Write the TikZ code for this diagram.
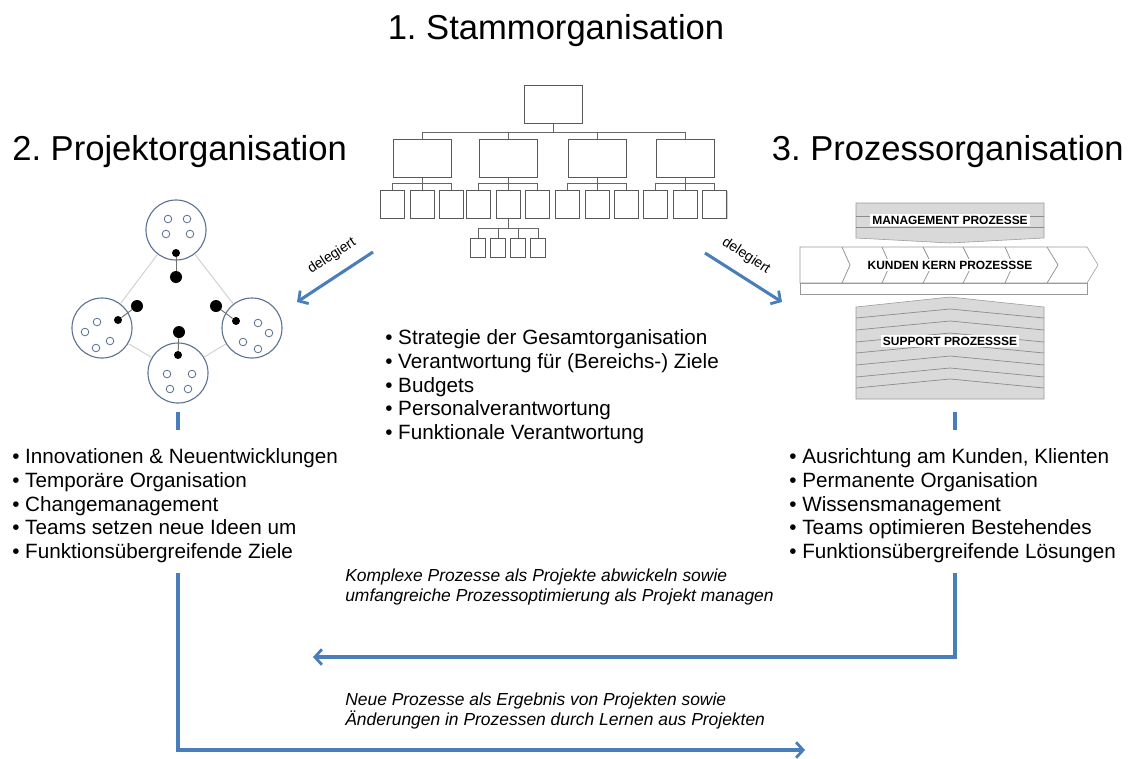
\documentclass[tikz,border=0pt]{standalone}
\usepackage{fontspec}
\setmainfont{Liberation Sans}
\frenchspacing
\usetikzlibrary{positioning,arrows.meta,shadows}
\definecolor{arrowblue}{HTML}{4A7EBB}
\definecolor{teamblue}{HTML}{5D7391}
\definecolor{procgray}{HTML}{D9D9D9}
\tikzset{
	orgbox/.style={draw=black!65,fill=white,line width=0.7pt,inner sep=0pt,drop shadow={shadow xshift=0.7pt,shadow yshift=-0.7pt,fill=black!40}},
	orgline/.style={draw=black!60,line width=0.5pt},
	team/.style={circle,draw=teamblue,fill=white,line width=0.8pt,minimum size=1.5cm,inner sep=0pt},
	member/.style={circle,draw=teamblue,line width=0.6pt,minimum size=0.19cm,inner sep=0pt},
	bigdot/.style={circle,fill=black,minimum size=0.3cm,inner sep=0pt},
	smalldot/.style={circle,fill=black,minimum size=0.2cm,inner sep=0pt},
	teamlink/.style={draw=black!18,line width=0.7pt},
	dotlink/.style={draw=black!55,line width=0.7pt},
	proclabel/.style={fill=white,inner sep=1.5pt,font=\bfseries\fontsize{8.5}{10}\selectfont},
	procline/.style={draw=black!45,line width=0.5pt},
	myarrow/.style={-{Straight Barb[length=5pt,width=11pt,line width=2pt]},draw=arrowblue,line width=2.2pt},
	myline/.style={draw=arrowblue,line width=2.2pt},
	title/.style={inner sep=0pt,font=\fontsize{24.6}{29}\selectfont},
	bullets/.style={anchor=north west,align=left,inner sep=0pt,font=\fontsize{14.7}{16.8}\selectfont},
	remark/.style={anchor=north west,align=left,inner sep=0pt,font=\itshape\fontsize{12.4}{14.2}\selectfont}
}

\begin{document}
\begin{tikzpicture}[x=0.025cm,y=-0.025cm]
	\useasboundingbox (0,0) rectangle (1128,758);

	% titles
	\node[title,anchor=base] (stamm) at (556,39) {1. Stammorganisation};
	\node[title,anchor=base west] (projekt) at (12,160) {2. Projektorganisation};
	\node[title,anchor=base east] (prozess) at (1124,160) {3. Prozessorganisation};

	% org chart
	\node[orgbox,minimum width=1.45cm,minimum height=0.95cm] (head) at (553,104) {};
	\coordinate (bus) at (553,132);
	\draw[orgline] (head) -- (bus);
	\foreach \i/\x in {1/422,2/508,3/597,4/685}{
		\node[orgbox,minimum width=1.45cm,minimum height=0.95cm] (dept\i) at (\x,158) {};
		\draw[orgline] (bus) -| (dept\i);
		\coordinate (sub\i) at (\x,183);
		\draw[orgline] (dept\i) -- (sub\i);
		\foreach \j in {-1,0,1}{
			\node[orgbox,minimum width=0.6cm,minimum height=0.7cm] (unit\i\j) at (\x+29.5*\j,204) {};
			\draw[orgline] (sub\i) -| (unit\i\j);
		}
	}
	\coordinate (sub5) at (508,228);
	\draw[orgline] (unit20) -- (sub5);
	\foreach \k/\x in {1/478,2/498,3/518,4/538}{
		\node[orgbox,minimum width=0.375cm,minimum height=0.475cm] (cell\k) at (\x,248) {};
		\draw[orgline] (sub5) -| (cell\k);
	}

	% project teams
	\node[team] (teamtop) at (176,230) {};
	\node[team] (teamleft) at (102,328) {};
	\node[team] (teamright) at (252,328) {};
	\node[team] (teambottom) at (178,373) {};
	\draw[teamlink] (teamtop) -- (teamleft);
	\draw[teamlink] (teamtop) -- (teamright);
	\draw[teamlink] (teamleft) -- (teambottom);
	\draw[teamlink] (teamright) -- (teambottom);
	\foreach \p in {(168,219),(187,219),(166,234),(190,234),
		(97,322),(85,332),(110,341),(96,348),
		(258,323),(269,333),(243,342),(258,349),
		(167,374),(192,374),(170,389),(188,389)}
		\node[member] at \p {};
	\node[bigdot] (bigtop) at (176,277) {};
	\node[bigdot] (bigleft) at (137,306) {};
	\node[bigdot] (bigright) at (216,306) {};
	\node[bigdot] (bigbottom) at (179,332) {};
	\node[smalldot] (smalltop) at (176,253) {};
	\node[smalldot] (smallleft) at (118,320) {};
	\node[smalldot] (smallright) at (236,321) {};
	\node[smalldot] (smallbottom) at (178,355) {};
	\draw[dotlink] (smalltop) -- (bigtop);
	\draw[dotlink] (smallleft) -- (bigleft);
	\draw[dotlink] (smallright) -- (bigright);
	\draw[dotlink] (smallbottom) -- (bigbottom);

	% process map
	\filldraw[fill=procgray,draw=black!40] (856,203) -- (1044,203) -- (1044,238) -- (950,243) -- (856,238) -- cycle;
	\draw[procline] (856,216) -- (1044,216);
	\draw[procline] (856,227) -- (1044,227);
	\node[proclabel] (mgmt) at (950,220) {MANAGEMENT PROZESSE};

	\filldraw[fill=white,draw=black!40] (800,247) -- (1087,247) -- (1098,265) -- (1087,283) -- (800,283) -- cycle;
	\foreach \x/\t in {842/850,882/890,923/932,963/972,1005/1013,1047/1058}
		\draw[procline] (\x,247) -- (\t,265) -- (\x,283);
	\filldraw[fill=white,draw=black!40] (800,283) rectangle (1087,294);
	\node[proclabel] (kern) at (950,265) {KUNDEN KERN PROZESSSE};

	\filldraw[fill=procgray,draw=black!40] (856,307) -- (950,297) -- (1044,307) -- (1044,399) -- (856,399) -- cycle;
	\foreach \y in {318,330,342,353,365,377,388}
		\draw[procline] (856,\y) -- (950,\y-9) -- (1044,\y);
	\node[proclabel] (support) at (950,341) {SUPPORT PROZESSSE};

	% delegation arrows
	\coordinate (delstartl) at (373,252);
	\coordinate (delendl) at (297,302);
	\coordinate (delstartr) at (705,253);
	\coordinate (delendr) at (782,302);
	\draw[myarrow] (delstartl) -- (delendl);
	\draw[myarrow] (delstartr) -- (delendr);
	\node[rotate=33,inner sep=0pt,font=\fontsize{10}{11}\selectfont] (dell) at (332,256) {delegiert};
	\node[rotate=-33,inner sep=0pt,font=\fontsize{10}{11}\selectfont] (delr) at (746,256) {delegiert};

	% bullet lists
	\node[bullets] (stammlist) at (385,329.5) {• Strategie der Gesamtorganisation\\• Verantwortung für (Bereichs-) Ziele\\• Budgets\\• Personalverantwortung\\• Funktionale Verantwortung};
	\node[bullets] (projlist) at (12,448.5) {• Innovationen \& Neuentwicklungen\\• Temporäre Organisation\\• Changemanagement\\• Teams setzen neue Ideen um\\• Funktionsübergreifende Ziele};
	\node[bullets] (proclist) at (789,448.5) {• Ausrichtung am Kunden, Klienten\\• Permanente Organisation\\• Wissensmanagement\\• Teams optimieren Bestehendes\\• Funktionsübergreifende Lösungen};

	% feedback loops
	\coordinate (tickl1) at (178,412);
	\coordinate (tickl2) at (178,430);
	\coordinate (tickr1) at (955,412);
	\coordinate (tickr2) at (955,430);
	\draw[myline] (tickl1) -- (tickl2);
	\draw[myline] (tickr1) -- (tickr2);
	\coordinate (procout) at (955,573);
	\coordinate (procin) at (313,657);
	\draw[myarrow] (procout) |- (procin);
	\coordinate (projout) at (178,573);
	\coordinate (projin) at (805,750);
	\draw[myarrow] (projout) |- (projin);
	\node[remark] (komplex) at (345,569) {Komplexe Prozesse als Projekte abwickeln sowie\\umfangreiche Prozessoptimierung als Projekt managen};
	\node[remark] (neue) at (345,693) {Neue Prozesse als Ergebnis von Projekten sowie\\Änderungen in Prozessen durch Lernen aus Projekten};
\end{tikzpicture}
\end{document}
